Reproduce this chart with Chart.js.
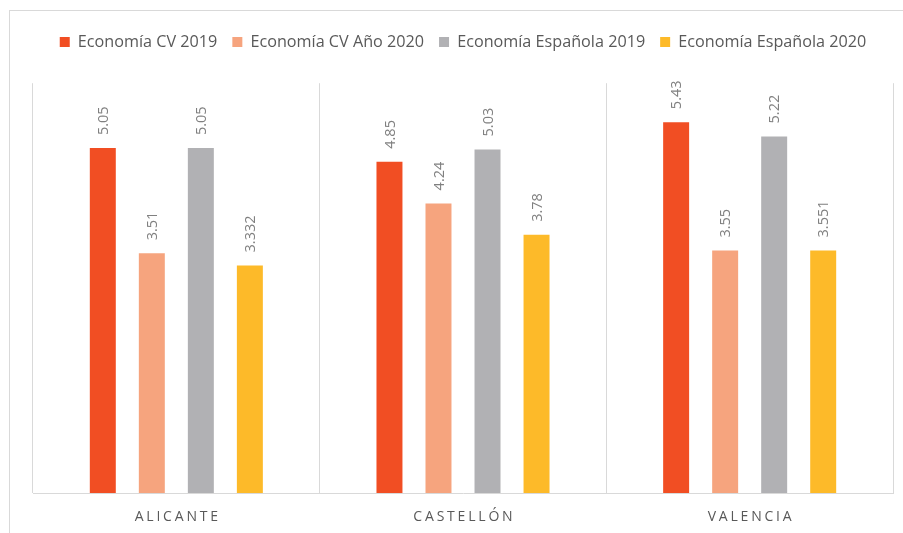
<!DOCTYPE html>
<html>
<head>
<meta charset="utf-8">
<script src="https://cdn.jsdelivr.net/npm/chart.js@4/dist/chart.umd.min.js"></script>
<style>
  html, body { margin: 0; padding: 0; background: #fff; }
  #wrap { position: relative; width: 903px; height: 533px; overflow: hidden; }
  #frame { position: absolute; left: 9px; top: 10px; width: 1000px; height: 1000px; border: 1px solid #d9d9d9; box-sizing: border-box; }
  canvas { position: absolute; left: 0; top: 0; }
</style>
</head>
<body>
<div id="wrap">
  <div id="frame"></div>
  <canvas id="c" width="903" height="533"></canvas>
</div>
<script>
const categories = ["ALICANTE", "CASTELLÓN", "VALENCIA"];
const seriesNames = ["Economía CV 2019", "Economía CV Año 2020", "Economía Española 2019", "Economía Española 2020"];
const cv2019 = [5.05, 4.85, 5.43];
const cv2020 = [3.51, 4.24, 3.55];
const es2019 = [5.05, 5.03, 5.22];
const es2020 = [3.332, 3.78, 3.551];
const colors = ["#F14E23", "#F6A47E", "#B1B1B4", "#FDBA29"];

const seriesValues = [cv2019, cv2020, es2019, es2020];

const legendSpacer = {
  id: 'legendSpacer',
  beforeInit(chart) {
    const origFit = chart.legend.fit;
    chart.legend.fit = function () {
      origFit.bind(chart.legend)();
      this.height += 23;
    };
  }
};

const barLabels = {
  id: 'barLabels',
  afterDatasetsDraw(chart) {
    const ctx = chart.ctx;
    chart.data.datasets.forEach((ds, di) => {
      const meta = chart.getDatasetMeta(di);
      meta.data.forEach((bar, i) => {
        ctx.save();
        ctx.translate(bar.x + 1, bar.y - 13);
        ctx.rotate(-Math.PI / 2);
        ctx.font = '14.5px "Open Sans"';
        ctx.fillStyle = '#808080';
        ctx.textAlign = 'left';
        ctx.textBaseline = 'middle';
        ctx.fillText(String(ds.data[i]), 0, 0);
        ctx.restore();
      });
    });
  }
};

const xLabels = {
  id: 'xLabels',
  afterDraw(chart) {
    const ctx = chart.ctx;
    const xs = chart.scales.x;
    ctx.save();
    ctx.font = '14px "Open Sans"';
    ctx.fillStyle = '#595959';
    ctx.textAlign = 'center';
    ctx.textBaseline = 'middle';
    ctx.letterSpacing = '2.8px';
    chart.data.labels.forEach((lab, i) => {
      ctx.fillText(lab, xs.getPixelForTick(i) + 1.4, 517);
    });
    ctx.restore();
  }
};

new Chart(document.getElementById('c'), {
  type: 'bar',
  data: {
    labels: categories,
    datasets: seriesNames.map((name, k) => ({
      label: name,
      data: seriesValues[k],
      backgroundColor: colors[k],
      borderWidth: 0,
      categoryPercentage: 0.684,
      barPercentage: 0.53
    }))
  },
  options: {
    responsive: false,
    animation: false,
    layout: { padding: { left: 33, right: 10, top: 19, bottom: 40 } },
    plugins: {
      legend: {
        position: 'top',
        labels: {
          boxWidth: 10,
          boxHeight: 10,
          padding: 15,
          color: '#595959',
          font: { family: '"Open Sans"', size: 16.2 }
        }
      },
      tooltip: { enabled: false }
    },
    scales: {
      x: {
        ticks: { display: false },
        grid: { color: '#d9d9d9', lineWidth: 1, drawTicks: false, offset: true },
        border: { display: true, color: '#d9d9d9', width: 1 }
      },
      y: {
        display: false,
        min: 0,
        max: 6
      }
    }
  },
  plugins: [legendSpacer, barLabels, xLabels]
});
</script>
</body>
</html>
